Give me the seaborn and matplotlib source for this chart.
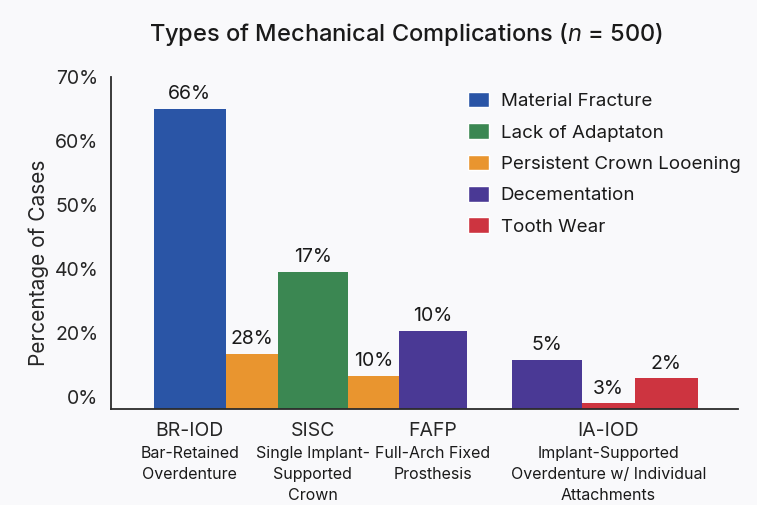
import numpy as np
import pandas as pd
import seaborn as sns
import matplotlib.pyplot as plt
from matplotlib.patches import Patch

# data (bar heights, in axis-step units: one tick step = 10)
kinds = ["Material Fracture", "Persistent Crown Looening", "Lack of Adaptaton",
         "Persistent Crown Looening", "Decementation", "Decementation",
         "Tooth Wear", "Tooth Wear"]
heights = [46.9, 8.6, 21.5, 5.2, 12.2, 7.7, 0.9, 4.8]
bar_labels = ["66%", "28%", "17%", "10%", "10%", "5%", "3%", "2%"]

group_names = ["BR-IOD", "SISC", "FAFP", "IA-IOD"]
group_desc = ["Bar-Retained\nOverdenture",
              "Single Implant-\nSupported\nCrown",
              "Full-Arch Fixed\nProsthesis",
              "Implant-Supported\nOverdenture w/ Individual\nAttachments"]
ytick_labels = ["0%", "20%", "40%", "50%", "60%", "70%"]

legend_order = ["Material Fracture", "Lack of Adaptaton", "Persistent Crown Looening",
                "Decementation", "Tooth Wear"]
colors = {"Material Fracture": "#2a55a6",
          "Lack of Adaptaton": "#3b8752",
          "Persistent Crown Looening": "#e9952f",
          "Decementation": "#4a3995",
          "Tooth Wear": "#cd3440"}

# layout
bar_widths = [72, 52, 70, 51, 68, 70, 53, 63]
gap_before = [0, 0, 0, 0, 0, 45, 0, 0]
label_anchor = [0, 2, 4, 6]
bg = "#f9f9fb"
dark = "#2b2b2b"

centers = []
left = 0
for w, g in zip(bar_widths, gap_before):
    left += g
    centers.append(left + w / 2)
    left += w
centers = np.array(centers)

df = pd.DataFrame({"pos": centers, "value": heights, "kind": kinds})

sns.set_style("white")
plt.rcParams["font.family"] = ["Inter", "DejaVu Sans"]
plt.rcParams["mathtext.fontset"] = "custom"
plt.rcParams["mathtext.it"] = "Inter:italic"
plt.rcParams["text.color"] = "#1a1a1a"

fig = plt.figure(figsize=(7.57, 5.05), dpi=100, facecolor=bg)
ax = fig.add_axes([0.1462, 0.190, 0.829, 0.6575], facecolor=bg)

sns.barplot(data=df, x="pos", y="value", hue="kind", palette=colors,
            native_scale=True, dodge=False, errorbar=None, legend=False,
            saturation=1, ax=ax)

for p in ax.patches:
    cx = p.get_x() + p.get_width() / 2
    i = int(np.argmin(np.abs(centers - cx)))
    p.set_width(bar_widths[i])
    p.set_x(centers[i] - bar_widths[i] / 2)
    p.set_edgecolor("none")

for i, txt in enumerate(bar_labels):
    ax.text(centers[i], heights[i] + 0.9, txt, ha="center", va="bottom", fontsize=14)

ax.set_xlim(-43, 584.3)
ax.set_ylim(0, 51.875)
ax.set_yticks([1.9 + 10 * k for k in range(6)], ytick_labels, fontsize=14)
ax.set_xticks([centers[a] for a in label_anchor], group_names, fontsize=14)
ax.tick_params(axis="x", length=0, pad=9)
ax.tick_params(axis="y", length=5, width=1.2, color=dark, pad=4)
# small tick mark under the IA-IOD group
ax.set_xticks([centers[label_anchor[-1]]], minor=True)
ax.tick_params(axis="x", which="minor", length=5, width=1.2, color=dark)

for a, desc in zip(label_anchor, group_desc):
    ax.text(centers[a], -0.112, desc, transform=ax.get_xaxis_transform(),
            ha="center", va="top", fontsize=11.5, linespacing=1.5)

ax.set_xlabel("")
ax.set_ylabel("Percentage of Cases", fontsize=15)
ax.yaxis.set_label_coords(-0.098, 0.44)

sns.despine(ax=ax)
for s in ["left", "bottom"]:
    ax.spines[s].set_color(dark)
    ax.spines[s].set_linewidth(1.3)

handles = [Patch(facecolor=colors[k], label=k) for k in legend_order]
fig.legend(handles=handles, loc="upper left", bbox_to_anchor=(0.618, 0.818),
           frameon=False, fontsize=13.5, handlelength=1.15, handleheight=0.9,
           handletextpad=0.6, labelspacing=0.7, borderpad=0, borderaxespad=0)

fig.text(0.536, 0.932, "Types of Mechanical Complications ($\\it{n}$ = 500)",
         ha="center", va="center", fontsize=17, fontweight="medium")

fig.savefig("out.png", dpi=100, facecolor=bg)
